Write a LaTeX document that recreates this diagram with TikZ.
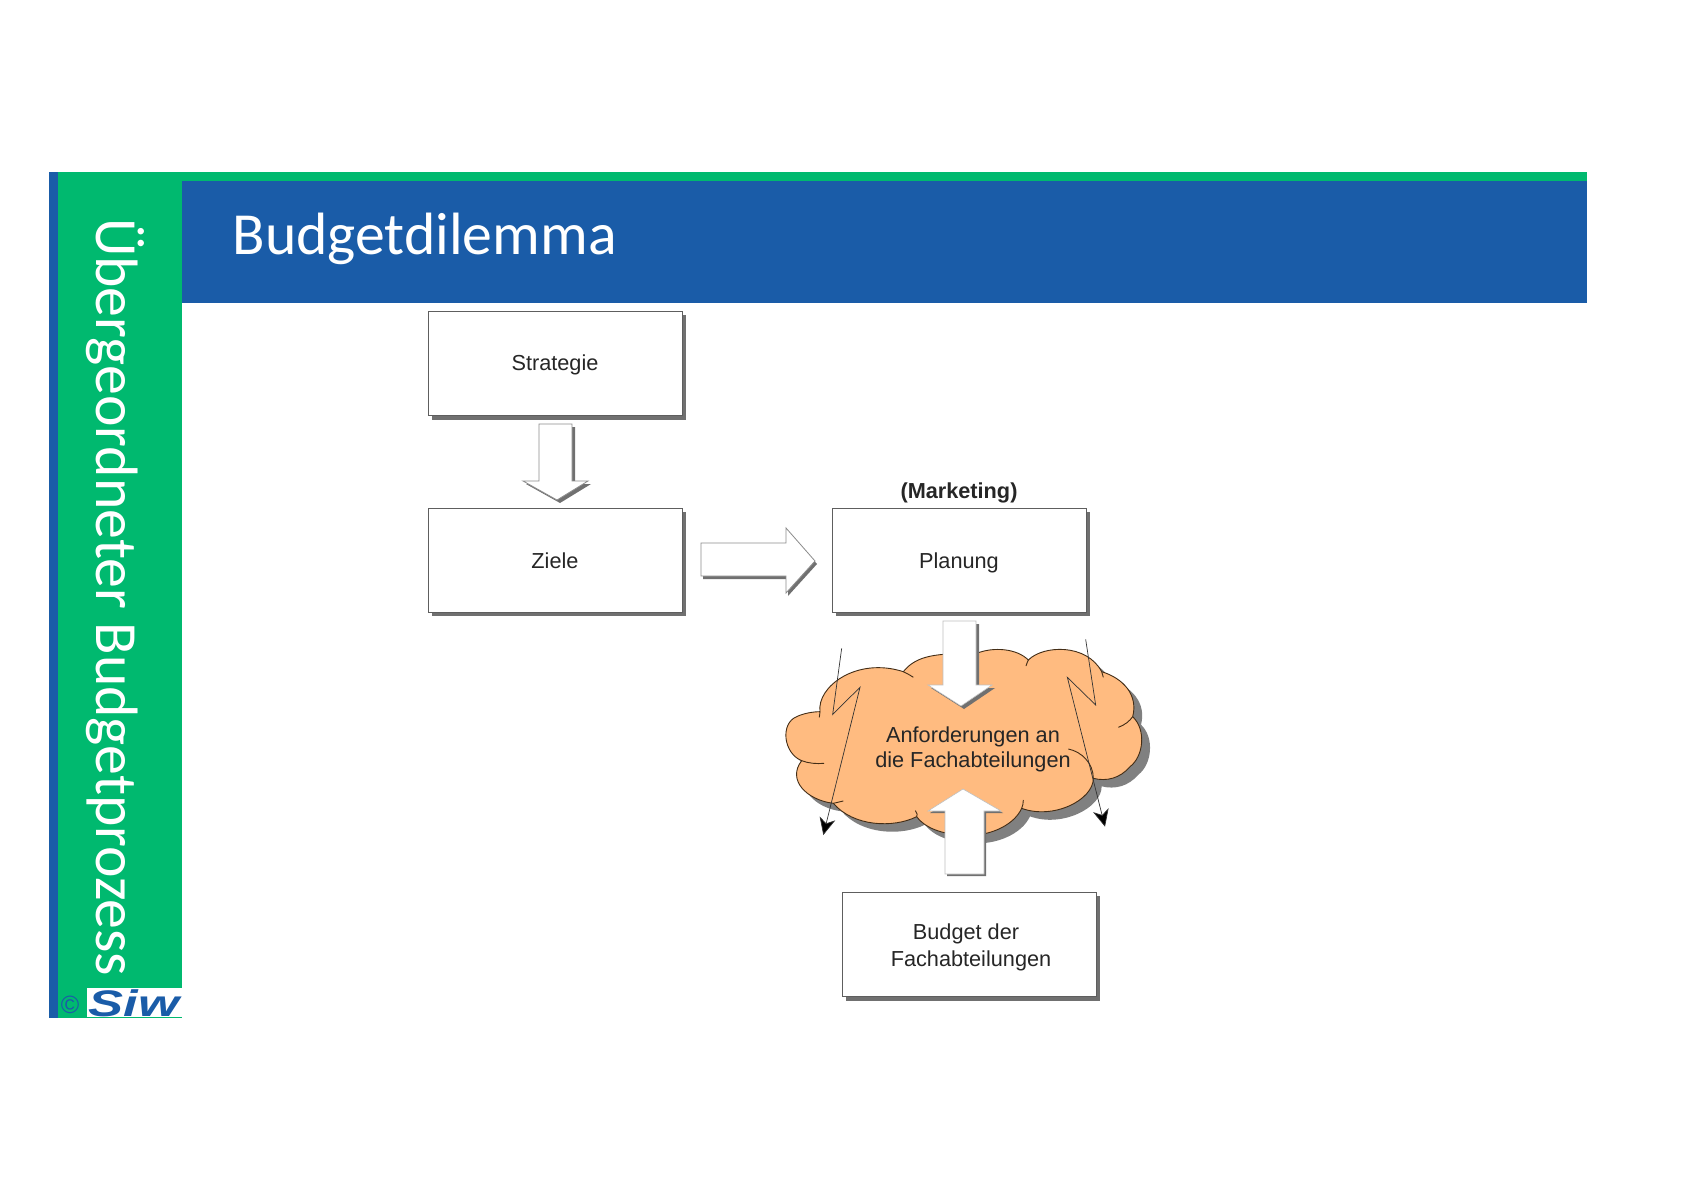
\documentclass[tikz,border=0pt]{standalone}
\usepackage{fontspec}
\setmainfont{Liberation Sans}
\newfontfamily\headfont{Carlito}
\usetikzlibrary{arrows.meta}
\definecolor{siwblue}{HTML}{1A5CA8}
\definecolor{siwgreen}{HTML}{00B96F}
\definecolor{cloudfill}{HTML}{FFBB80}
\definecolor{boxline}{HTML}{5E5E5E}
\definecolor{shadowgray}{HTML}{707070}
\definecolor{cloudshadow}{HTML}{808080}
\tikzset{
  flowbox/.style={draw=boxline,line width=1.1pt,fill=white,minimum width=254pt,minimum height=104pt,inner sep=0pt,align=center},
  boxshadow/.style={fill=shadowgray},
  boxtext/.style={font=\fontsize{21.7}{26}\selectfont,text=black!85},
  blockarrow/.style={draw=black!45,line width=.8pt,fill=white,line join=miter},
  arrowshadow/.style={fill=shadowgray,draw=none},
  cloudline/.style={draw=black!65!brown,line width=.9pt},
  zig/.style={draw=black!80,line width=.7pt,-{Stealth[length=17pt,width=16pt,inset=5pt,fill=black]}}
}
\newcommand{\cloudpath}{(180,335) .. controls (170,260) and (290,170) .. (430,215)
 .. controls (470,165) and (530,160) .. (650,160)
 .. controls (700,140) and (770,145) .. (805,180)
 .. controls (850,135) and (980,130) .. (1025,215)
 .. controls (1090,235) and (1135,285) .. (1118,350)
 .. controls (1160,390) and (1150,470) .. (1110,500)
 .. controls (1080,535) and (1040,545) .. (1000,535)
 .. controls (1000,600) and (880,660) .. (785,625)
 .. controls (760,680) and (680,710) .. (620,705)
 .. controls (560,705) and (500,690) .. (470,650)
 .. controls (400,685) and (280,680) .. (220,610)
 .. controls (140,600) and (80,540) .. (125,482)
 .. controls (70,460) and (60,370) .. (110,350)
 .. controls (130,340) and (160,335) .. (180,335) -- cycle}
\begin{document}
\begin{tikzpicture}[x=1pt,y=-1pt]
\useasboundingbox[fill=white] (0,0) rectangle (1683,1190);
% banner
\fill[siwgreen] (49,172) rectangle (182,1018);
\fill[siwblue] (49,172) rectangle (58,1018);
\fill[siwgreen] (182,172) rectangle (1587,181);
\fill[siwblue] (182,181) rectangle (1587,303);
\node[anchor=west,text=white,inner sep=0pt,font=\headfont\fontsize{59.7}{59.7}\selectfont] (title) at (232.5,239) {Budgetdilemma};
\node[anchor=west,rotate=-90,text=white,inner sep=0pt,font=\headfont\fontsize{59.8}{59.8}\selectfont] (side) at (115,218) {Übergeordneter Budgetprozess};
% logo
\fill[white] (87,988) rectangle (182,1017);
\node[text=siwblue,inner sep=0pt,font=\fontsize{25}{25}\selectfont] (copy) at (70,1005) {©};
\node[text=siwblue,inner sep=0pt,xscale=1.42,font=\bfseries\itshape\fontsize{37}{37}\selectfont] (logo) at (134,1003) {Siw};
% box shadows
\fill[boxshadow] (432,315) rectangle (686,420);
\fill[boxshadow] (432,512) rectangle (686,616);
\fill[boxshadow] (836,512) rectangle (1090,616);
\fill[boxshadow] (846,896) rectangle (1100,1001);
% boxes
\node[flowbox,anchor=north west] (strategie) at (428,311) {};
\node[flowbox,anchor=north west] (ziele) at (428,508) {};
\node[flowbox,anchor=north west] (planung) at (832,508) {};
\node[flowbox,anchor=north west] (budget) at (842,892) {};
\node[boxtext] (tstrategie) at (555,365) {Strategie};
\node[boxtext] (tziele) at (555,561) {Ziele};
\node[boxtext] (tplanung) at (959,563) {Planung};
\node[boxtext,font=\bfseries\fontsize{21.7}{26}\selectfont] (marketing) at (959,493) {(Marketing)};
\node[boxtext] (tbudget1) at (966,934) {Budget der};
\node[boxtext] (tbudget2) at (971,961) {Fachabteilungen};
% arrow strategie -> ziele
\fill[arrowshadow,shift={(3,3)}] (539,424) -- (572,424) -- (572,481) -- (588,481) -- (557,500) -- (523,481) -- (539,481) -- cycle;
\draw[blockarrow] (539,424) -- (572,424) -- (572,481) -- (588,481) -- (557,500) -- (523,481) -- (539,481) -- cycle;
% arrow ziele -> planung
\fill[arrowshadow,shift={(2,3)}] (701,543) -- (786,543) -- (786,528) -- (815,561) -- (786,593) -- (786,576) -- (701,576) -- cycle;
\draw[blockarrow] (701,543) -- (786,543) -- (786,528) -- (815,561) -- (786,593) -- (786,576) -- (701,576) -- cycle;
% cloud
\begin{scope}[xshift=760pt,yshift=-600pt,x=.33333pt,y=-.33333pt]
\fill[cloudshadow,shift={(25,24)}] \cloudpath;
\filldraw[cloudline,fill=cloudfill] \cloudpath;
\draw[cloudline] (460,232) .. controls (450,225) and (440,220) .. (430,215);
\draw[cloudline] (798,198) .. controls (800,190) and (803,185) .. (805,180);
\draw[cloudline] (1075,382) .. controls (1095,375) and (1110,362) .. (1118,350);
\draw[cloudline] (925,447) .. controls (965,455) and (1000,490) .. (1000,535);
\draw[cloudline] (125,482) .. controls (145,490) and (170,492) .. (192,490);
\draw[cloudline] (220,610) -- (250,603);
\draw[cloudline] (470,650) .. controls (475,645) and (470,640) .. (466,632);
\draw[cloudline] (785,625) .. controls (788,618) and (790,610) .. (790,600);
\draw[cloudline] (1025,215) -- (1030,232);
\draw[cloudline] (180,335) -- (178,352);
\coordinate (zl0) at (245,145); \coordinate (zl1) at (218,343); \coordinate (zl2) at (300,262); \coordinate (zl3) at (190,705);
\coordinate (zr0) at (977,118); \coordinate (zr1) at (1007,315); \coordinate (zr2) at (922,232); \coordinate (zr3) at (1035,680);
\end{scope}
% arrow planung -> cloud
\fill[arrowshadow,shift={(3,3)}] (943,621) -- (976,621) -- (976,685) -- (992,685) -- (961,706) -- (928,685) -- (943,685) -- cycle;
\filldraw[draw=black!25,line width=.6pt,fill=white] (943,621) -- (976,621) -- (976,685) -- (992,685) -- (961,706) -- (928,685) -- (943,685) -- cycle;
% arrow budget -> cloud
\fill[arrowshadow,shift={(2,2)}] (945,874) -- (984,874) -- (984,811) -- (1001,811) -- (963,789) -- (928,811) -- (945,811) -- cycle;
\filldraw[draw=black!25,line width=.6pt,fill=white] (945,874) -- (984,874) -- (984,811) -- (1001,811) -- (963,789) -- (928,811) -- (945,811) -- cycle;
% cloud text
\node[font=\fontsize{21.7}{25.5}\selectfont,text=black!85,align=center,inner sep=0pt] (cloudtext) at (973,749.5) {Anforderungen an\\die Fachabteilungen};
% zigzags
\draw[zig] (zl0) -- (zl1) -- (zl2) -- (zl3);
\draw[zig] (zr0) -- (zr1) -- (zr2) -- (zr3);
\end{tikzpicture}
\end{document}
